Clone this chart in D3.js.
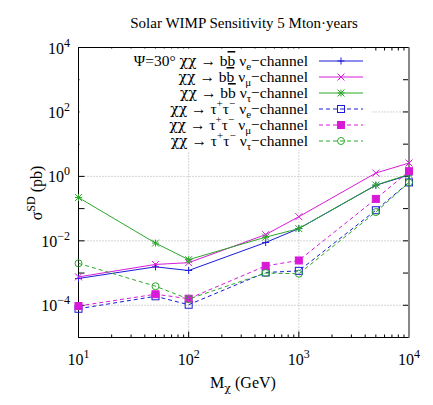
<!DOCTYPE html>
<html>
<head>
<meta charset="utf-8">
<script src="https://cdn.jsdelivr.net/npm/d3@7"></script>
<style>
  body { margin: 0; background: #fff; }
  svg { font-family: "Liberation Serif", "Times New Roman", serif; }
  .gr { font-family: "DejaVu Serif", serif; }
</style>
</head>
<body>
<svg id="chart" width="433" height="405"></svg>
<script>
// WIMP mass (GeV)
var mass = [10, 50, 100, 500, 1000, 5000, 10000];
// sigma SD (pb)
var bbE   = [6.8e-4, 1.56e-3, 1.2e-3, 8.9e-3, 2.4e-2, 0.53, 1.1];
var bbMu  = [7.6e-4, 1.85e-3, 2.1e-3, 1.56e-2, 5.6e-2, 1.27, 2.6];
var bbTau = [0.22, 8.5e-3, 2.6e-3, 1.3e-2, 2.4e-2, 0.54, 1.15];
var ttE   = [7.8e-5, 1.9e-4, 1.04e-4, 1.04e-3, 1.17e-3, 8.9e-2, 0.65];
var ttMu  = [9.5e-5, 2.2e-4, 1.6e-4, 1.67e-3, 2.46e-3, 0.2, 1.45];
var ttTau = [2.0e-3, 3.9e-4, 1.56e-4, 1.0e-3, 9.5e-4, 7.8e-2, 0.65];

var xTicks = [10, 100, 1000, 10000];
var yTicks = [1e-4, 1e-2, 1, 1e2, 1e4];

var blue = '#1a1ad8', magenta = '#d81ad8', green = '#2aa82a';

var series = [
	{ v: bbE,   color: blue,    dash: null,  mark: 'plus',   chan: 'e',  fin: 'bb', first: true },
	{ v: bbMu,  color: magenta, dash: null,  mark: 'cross',  chan: 'μ',  fin: 'bb' },
	{ v: bbTau, color: green,   dash: null,  mark: 'star',   chan: 'τ',  fin: 'bb' },
	{ v: ttE,   color: blue,    dash: '4,3', mark: 'box',    chan: 'e',  fin: 'tt' },
	{ v: ttMu,  color: magenta, dash: '4,3', mark: 'fbox',   chan: 'μ',  fin: 'tt' },
	{ v: ttTau, color: green,   dash: '4,3', mark: 'circle', chan: 'τ',  fin: 'tt' }
];

var svg = d3.select('#chart');
var pL = 78.5, pR = 409, pT = 47.5, pB = 337.5;

var x = d3.scaleLog().domain([10, 1e4]).range([pL, pR]);
var y = d3.scaleLog().domain([1e-5, 1e4]).range([pB, pT]);

// grid
var grid = svg.append('g').attr('stroke', '#aaa').attr('stroke-dasharray', '1,2').attr('stroke-width', 1);
[100, 1000].forEach(function (t) {
	grid.append('line').attr('x1', x(t)).attr('x2', x(t)).attr('y1', pT).attr('y2', pB);
});
[1e-4, 1e-2, 1, 1e2].forEach(function (t) {
	grid.append('line').attr('x1', pL).attr('x2', pR).attr('y1', y(t)).attr('y2', y(t));
});

// ticks
var ticks = svg.append('g').attr('stroke', '#000').attr('stroke-width', 1);
for (var e = 1; e <= 4; e++) {
	for (var m = 1; m < 10; m++) {
		var v = m * Math.pow(10, e);
		if (v > 1e4) break;
		var len = m === 1 ? 6 : 3;
		ticks.append('line').attr('x1', x(v)).attr('x2', x(v)).attr('y1', pB).attr('y2', pB - len);
		ticks.append('line').attr('x1', x(v)).attr('x2', x(v)).attr('y1', pT).attr('y2', pT + len);
	}
}
d3.range(-5, 5).forEach(function (e) {
	var yy = y(Math.pow(10, e));
	ticks.append('line').attr('x1', pL).attr('x2', pL + 6).attr('y1', yy).attr('y2', yy);
	ticks.append('line').attr('x1', pR).attr('x2', pR - 6).attr('y1', yy).attr('y2', yy);
});

// frame
svg.append('path')
	.attr('d', 'M' + pR + ',' + pT + 'H' + pL + 'V' + pB + 'H' + pR)
	.attr('fill', 'none').attr('stroke', '#000').attr('stroke-width', 1);
svg.append('line').attr('x1', pR).attr('x2', pR).attr('y1', pT).attr('y2', pB)
	.attr('stroke', '#888').attr('stroke-width', 2);

// tick labels
xTicks.forEach(function (t) {
	var txt = svg.append('text').attr('x', x(t)).attr('y', 365).attr('text-anchor', 'middle')
		.attr('font-size', 16);
	txt.append('tspan').text('10');
	txt.append('tspan').attr('dy', -7).attr('font-size', 12).text(Math.round(Math.log10(t)));
});
yTicks.forEach(function (t) {
	var txt = svg.append('text').attr('x', 70).attr('y', y(t) + 6).attr('text-anchor', 'end')
		.attr('font-size', 16);
	txt.append('tspan').text('10');
	txt.append('tspan').attr('dy', -7).attr('font-size', 12).text(Math.round(Math.log10(t)).toString().replace('-', '−'));
});

// title and axis labels
svg.append('text').attr('x', 244).attr('y', 28).attr('text-anchor', 'middle').attr('font-size', 15)
	.text('Solar WIMP Sensitivity 5 Mton·years');

var xl = svg.append('text').attr('x', 243).attr('y', 388).attr('text-anchor', 'middle').attr('font-size', 16);
xl.append('tspan').text('M');
xl.append('tspan').attr('class', 'gr').attr('dy', 4).attr('font-size', 11).text('χ');
xl.append('tspan').attr('dy', -4).text(' (GeV)');

var yl = svg.append('text').attr('transform', 'translate(42,193) rotate(-90)').attr('text-anchor', 'middle')
	.attr('font-size', 16);
yl.append('tspan').text('σ');
yl.append('tspan').attr('dy', -7).attr('font-size', 12).text('SD');
yl.append('tspan').attr('dy', 7).text(' (pb)');

// markers
function marker(g, mark, color, size) {
	var s = size;
	if (mark === 'plus' || mark === 'star') {
		g.append('path').attr('d', 'M' + (-s) + ',0H' + s + 'M0,' + (-s) + 'V' + s)
			.attr('stroke', color).attr('fill', 'none');
	}
	if (mark === 'cross' || mark === 'star') {
		g.append('path').attr('d', 'M' + (-s) + ',' + (-s) + 'L' + s + ',' + s + 'M' + (-s) + ',' + s + 'L' + s + ',' + (-s))
			.attr('stroke', color).attr('fill', 'none');
	}
	if (mark === 'box' || mark === 'fbox') {
		g.append('rect').attr('x', -s).attr('y', -s).attr('width', 2 * s).attr('height', 2 * s)
			.attr('stroke', color).attr('fill', mark === 'fbox' ? color : 'none');
	}
	if (mark === 'circle') {
		g.append('circle').attr('r', s).attr('stroke', color).attr('fill', 'none');
	}
}

var line = d3.line().x(function (d) { return x(d[0]); }).y(function (d) { return y(d[1]); });

series.forEach(function (s) {
	var pts = mass.map(function (m, i) { return [m, s.v[i]]; });
	svg.append('path').datum(pts).attr('d', line)
		.attr('fill', 'none').attr('stroke', s.color).attr('stroke-width', 1)
		.attr('stroke-dasharray', s.dash);
	pts.forEach(function (p) {
		var g = svg.append('g').attr('transform', 'translate(' + x(p[0]) + ',' + y(p[1]) + ')');
		marker(g, s.mark, s.color, 3.5);
	});
});

// legend
svg.append('rect').attr('x', pL + 1).attr('y', pT + 1).attr('width', 370 - pL).attr('height', 102)
	.attr('fill', '#fff');

series.forEach(function (s, i) {
	var ly = 61 + i * 16;
	var t = svg.append('text').attr('x', 308).attr('y', ly + 5).attr('text-anchor', 'end').attr('font-size', 15.5);
	if (s.first) t.append('tspan').text('Ψ=30° ');
	t.append('tspan').attr('class', 'gr').attr('font-size', 14).text('χχ');
	t.append('tspan').text(' → ');
	if (s.fin === 'bb') {
		t.append('tspan').text('b');
		t.append('tspan').style('text-decoration', 'overline').text('b');
		t.append('tspan').text(' ');
	} else {
		t.append('tspan').text('τ');
		t.append('tspan').attr('dy', -7).attr('font-size', 11).text('+');
		t.append('tspan').attr('dy', 7).text('τ');
		t.append('tspan').attr('dy', -7).attr('font-size', 11).text('−');
		t.append('tspan').attr('dy', 7).text('  ');
	}
	t.append('tspan').text('ν');
	t.append('tspan').attr('dy', 4).attr('font-size', 11).text(s.chan);
	t.append('tspan').attr('dy', -4).text('−channel');

	svg.append('line').attr('x1', 319).attr('x2', 363).attr('y1', ly).attr('y2', ly)
		.attr('stroke', s.color).attr('stroke-width', 1).attr('stroke-dasharray', s.dash);
	var g = svg.append('g').attr('transform', 'translate(341,' + ly + ')');
	marker(g, s.mark, s.color, 3.5);
});
</script>
</body>
</html>
